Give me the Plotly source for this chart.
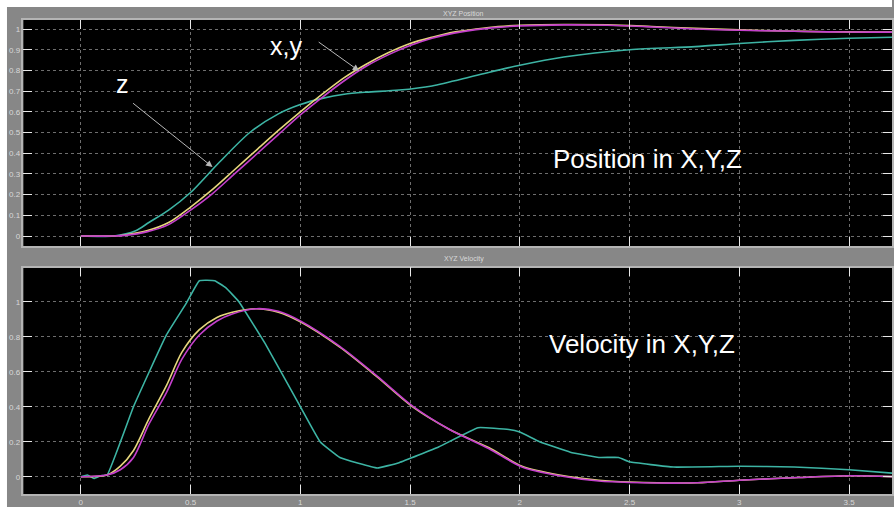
import plotly.graph_objects as go

# ---------------- data ----------------
# Position panel
t_pos_xy = [0, 0.15, 0.2, 0.3, 0.4, 0.5, 0.6, 0.7, 0.8, 0.9, 1.0, 1.1, 1.2, 1.3, 1.4,
            1.5, 1.6, 1.7, 1.8, 1.9, 2.0, 2.2, 2.4, 2.6, 2.8, 3.0, 3.2, 3.4, 3.6, 3.7]
pos_x = [0, 0, 0.005, 0.025, 0.065, 0.14, 0.225, 0.32, 0.415, 0.51, 0.60, 0.685, 0.765,
         0.83, 0.885, 0.93, 0.96, 0.985, 1.0, 1.012, 1.018, 1.022, 1.02, 1.012, 1.003,
         0.996, 0.99, 0.987, 0.985, 0.985]
pos_y = [0, 0, 0.003, 0.02, 0.055, 0.125, 0.205, 0.30, 0.395, 0.49, 0.585, 0.67, 0.75,
         0.82, 0.875, 0.92, 0.955, 0.98, 0.997, 1.008, 1.015, 1.02, 1.018, 1.01, 1.0,
         0.994, 0.99, 0.986, 0.985, 0.985]
t_pos_z = [0, 0.15, 0.25, 0.31, 0.4, 0.5, 0.63, 0.77, 0.9, 1.0, 1.1, 1.2, 1.3, 1.45,
           1.6, 1.8, 2.0, 2.2, 2.5, 2.8, 3.0, 3.25, 3.5, 3.7]
pos_z = [0, 0, 0.025, 0.065, 0.125, 0.21, 0.355, 0.5, 0.59, 0.635, 0.665, 0.685, 0.695,
         0.705, 0.725, 0.775, 0.825, 0.865, 0.9, 0.915, 0.93, 0.945, 0.955, 0.96]

# Velocity panel
t_vel_xy = [0, 0.12, 0.18, 0.24, 0.31, 0.39, 0.46, 0.54, 0.62, 0.69, 0.8, 0.9, 1.0, 1.18,
            1.35, 1.51, 1.68, 1.86, 2.01, 2.18, 2.36, 2.5, 2.81, 3.0, 3.27, 3.51, 3.7]
vel_x = [0, 0.01, 0.06, 0.15, 0.33, 0.52, 0.71, 0.84, 0.91, 0.94, 0.96, 0.94, 0.885, 0.74,
         0.57, 0.40, 0.27, 0.165, 0.06, 0.01, -0.02, -0.03, -0.035, -0.02, -0.005, 0.005, 0.0]
vel_y = [0, 0.01, 0.04, 0.11, 0.30, 0.48, 0.67, 0.81, 0.89, 0.93, 0.96, 0.945, 0.89, 0.745,
         0.575, 0.405, 0.27, 0.16, 0.055, 0.005, -0.025, -0.033, -0.035, -0.02, -0.005, 0.005, 0.0]
t_vel_z = [0, 0.03, 0.06, 0.09, 0.12, 0.24, 0.39, 0.48, 0.54, 0.61, 0.66, 0.72, 0.84, 1.0,
           1.09, 1.18, 1.35, 1.45, 1.63, 1.81, 1.95, 2.0, 2.09, 2.23, 2.36, 2.45, 2.5, 2.7,
           3.0, 3.25, 3.5, 3.7]
vel_z = [0, 0.01, -0.01, 0.005, 0.01, 0.40, 0.81, 0.99, 1.12, 1.12, 1.08, 1.00, 0.76, 0.40,
         0.20, 0.11, 0.05, 0.08, 0.17, 0.28, 0.27, 0.255, 0.20, 0.14, 0.11, 0.11, 0.085, 0.055,
         0.06, 0.055, 0.04, 0.02]

x_tick_vals = [0, 0.5, 1, 1.5, 2, 2.5, 3, 3.5]
x_tick_text = ["0", "0.5", "1", "1.5", "2", "2.5", "3", "3.5"]
pos_tick_vals = [0, 0.1, 0.2, 0.3, 0.4, 0.5, 0.6, 0.7, 0.8, 0.9, 1]
pos_tick_text = ["0", "0.1", "0.2", "0.3", "0.4", "0.5", "0.6", "0.7", "0.8", "0.9", "1"]
vel_tick_vals = [0, 0.2, 0.4, 0.6, 0.8, 1]
vel_tick_text = ["0", "0.2", "0.4", "0.6", "0.8", "1"]

panel_titles = ["XYZ Position", "XYZ Velocity"]
big_labels = ["Position in X,Y,Z", "Velocity in X,Y,Z"]

# ---------------- styling ----------------
W, H = 894, 507
YELLOW = "#e6d67c"
MAGENTA = "#c43fcc"
TEAL = "#3db4a4"
GRAY_BG = "#878787"
FONT = "Liberation Sans, Arial, sans-serif"

def px(xp):
    return xp / W

def py(yp):
    return 1 - yp / H

fig = go.Figure()

def add_line(x, y, color, xa, ya, shape="spline", smoothing=0.8):
    line = dict(color=color, width=1.6, shape=shape)
    if shape == "spline":
        line["smoothing"] = smoothing
    fig.add_trace(go.Scatter(x=x, y=y, mode="lines", xaxis=xa, yaxis=ya,
                             line=line, showlegend=False, hoverinfo="skip"))

add_line(t_pos_z, pos_z, TEAL, "x", "y")
add_line(t_pos_xy, pos_x, YELLOW, "x", "y")
add_line(t_pos_xy, pos_y, MAGENTA, "x", "y")
add_line(t_vel_z, vel_z, TEAL, "x2", "y2", smoothing=0.3)
add_line(t_vel_xy, vel_x, YELLOW, "x2", "y2")
add_line(t_vel_xy, vel_y, MAGENTA, "x2", "y2")

x_dom = [23.5 / W, 1.0]
x_rng = [(23.5 - 81) / 220, (894 - 81) / 220]

common_axis = dict(showline=True, linecolor="#b4b4b4", linewidth=1.5, mirror="ticks",
                   ticks="inside", ticklen=9, tickcolor="#e8e8e8", tickwidth=1,
                   showgrid=True, gridcolor="rgba(200,200,200,0.55)", griddash="dot",
                   gridwidth=1, zeroline=False,
                   tickfont=dict(family=FONT, size=8, color="#d8d8d8"))

fig.update_layout(
    width=W, height=H,
    margin=dict(l=0, r=0, t=0, b=0),
    paper_bgcolor=GRAY_BG, plot_bgcolor="#000000",
    showlegend=False,
    xaxis=dict(domain=x_dom, range=x_rng, anchor="y", tickvals=x_tick_vals,
               ticktext=x_tick_text, showticklabels=False, **common_axis),
    yaxis=dict(domain=[py(246), py(20)], range=[-(246 - 236) / 207, (236 - 20) / 207],
               anchor="x", tickvals=pos_tick_vals, ticktext=pos_tick_text, **common_axis),
    xaxis2=dict(domain=x_dom, range=x_rng, anchor="y2", tickvals=x_tick_vals,
                ticktext=x_tick_text, showticklabels=True, **common_axis),
    yaxis2=dict(domain=[py(494), py(267.7)],
                range=[-(494 - 476.7) / 175, (476.7 - 267.7) / 175],
                anchor="x2", tickvals=vel_tick_vals, ticktext=vel_tick_text, **common_axis),
)

# white strips at top and left of the screenshot
fig.add_shape(type="rect", xref="paper", yref="paper", x0=0, x1=px(7), y0=0, y1=1,
              fillcolor="#ffffff", line=dict(width=0), layer="below")
fig.add_shape(type="rect", xref="paper", yref="paper", x0=0, x1=1, y0=py(7), y1=1,
              fillcolor="#ffffff", line=dict(width=0), layer="below")

# small panel titles
for title, yp in zip(panel_titles, [13, 259]):
    fig.add_annotation(text=title, xref="paper", yref="paper", x=px(465), y=py(yp),
                       showarrow=False, font=dict(family=FONT, size=7, color="#dadada"),
                       xanchor="center", yanchor="middle")

# big labels
for text, (xp, yp) in zip(big_labels, [(552, 159), (548, 344)]):
    fig.add_annotation(text=text, xref="paper", yref="paper", x=px(xp), y=py(yp),
                       showarrow=False, font=dict(family=FONT, size=26, color="#ffffff"),
                       xanchor="left", yanchor="middle")

fig.add_annotation(text="x,y", xref="paper", yref="paper", x=px(269), y=py(46),
                   showarrow=False, font=dict(family=FONT, size=25, color="#ffffff"),
                   xanchor="left", yanchor="middle")
fig.add_annotation(text="z", xref="paper", yref="paper", x=px(114), y=py(84),
                   showarrow=False, font=dict(family=FONT, size=25, color="#ffffff"),
                   xanchor="left", yanchor="middle")

# arrows
for (tx, ty), (hx, hy) in [((318, 41), (360, 71)), ((132, 102), (213, 167))]:
    fig.add_annotation(text="", xref="paper", yref="paper", x=px(hx), y=py(hy),
                       ax=tx - hx, ay=ty - hy, axref="pixel", ayref="pixel",
                       showarrow=True, arrowhead=2, arrowsize=1.3, arrowwidth=1,
                       arrowcolor="#b8b8b8")

fig.write_html("out.html", config={"displayModeBar": False},
               post_script="document.body.style.margin='0';document.body.style.overflow='hidden';")
